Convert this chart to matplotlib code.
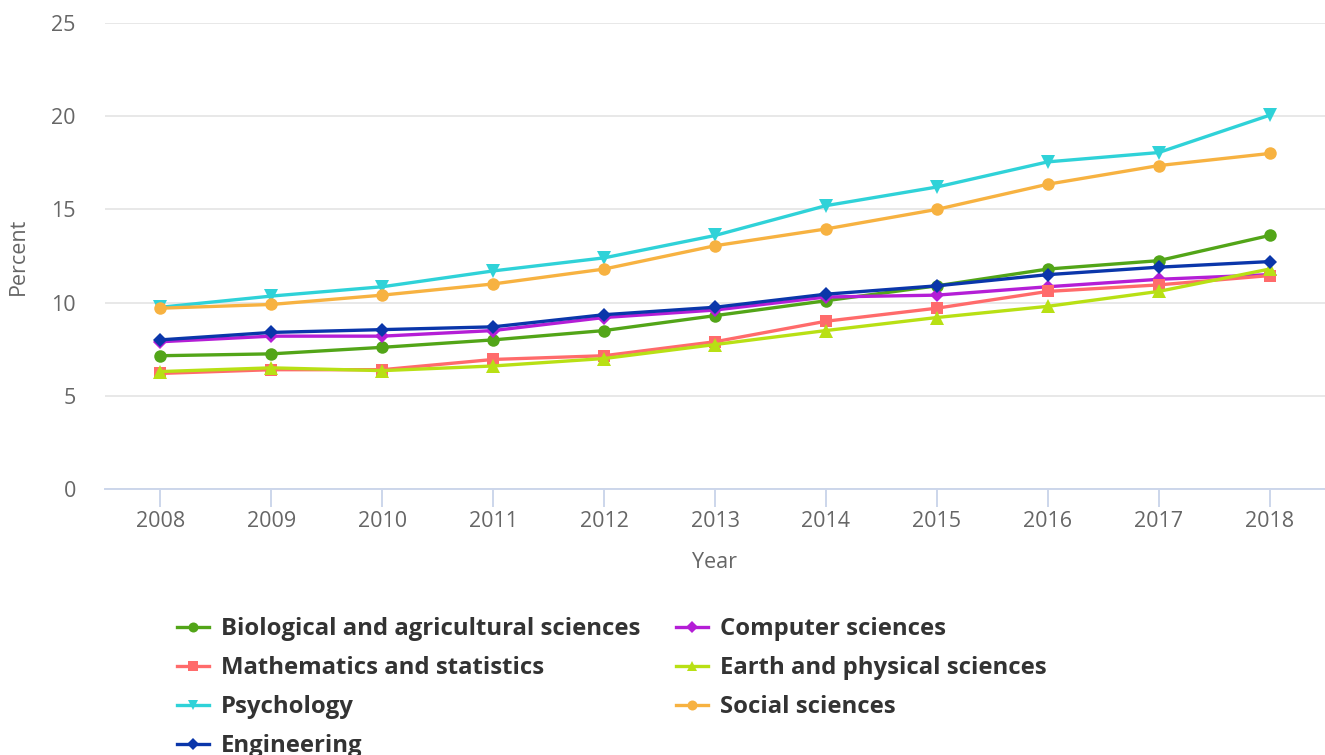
import matplotlib
matplotlib.use("Agg")
import matplotlib.pyplot as plt

years = [2008, 2009, 2010, 2011, 2012, 2013, 2014, 2015, 2016, 2017, 2018]

biological = [7.15, 7.25, 7.6, 8.0, 8.5, 9.3, 10.1, 10.9, 11.8, 12.25, 13.6]
computer = [7.9, 8.2, 8.2, 8.5, 9.2, 9.6, 10.3, 10.4, 10.85, 11.25, 11.5]
mathematics = [6.2, 6.4, 6.4, 6.95, 7.15, 7.9, 9.0, 9.7, 10.6, 10.95, 11.45]
earth = [6.3, 6.5, 6.35, 6.6, 7.0, 7.75, 8.5, 9.2, 9.8, 10.6, 11.8]
psychology = [9.75, 10.35, 10.85, 11.7, 12.4, 13.6, 15.2, 16.2, 17.55, 18.05, 20.05]
social = [9.7, 9.9, 10.4, 11.0, 11.8, 13.05, 13.95, 15.0, 16.35, 17.35, 18.0]
engineering = [8.0, 8.4, 8.55, 8.7, 9.35, 9.75, 10.45, 10.9, 11.5, 11.9, 12.2]

yticks = [0, 5, 10, 15, 20, 25]

series = [
    ("Biological and agricultural sciences", biological, "#52a518", "o"),
    ("Computer sciences", computer, "#b41ed6", "D"),
    ("Mathematics and statistics", mathematics, "#ff6b6b", "s"),
    ("Earth and physical sciences", earth, "#b8e014", "^"),
    ("Psychology", psychology, "#2fd2d8", "v"),
    ("Social sciences", social, "#f7b241", "o"),
    ("Engineering", engineering, "#0a36aa", "D"),
]

plt.rcParams['font.family'] = ['Open Sans', 'DejaVu Sans']

fig = plt.figure(figsize=(13.25, 7.55), dpi=100)
ax = fig.add_axes([105/1325, 1 - 489/755, 1 - 105/1325, (489 - 23)/755])

handles = {}
msizes = {"o": 9, "s": 8.5, "D": 7.5, "^": 9.5, "v": 9.5}
for name, vals, color, mk in series:
    ln, = ax.plot(years, vals, color=color, marker=mk, markersize=msizes[mk], linewidth=2.4,
                  markeredgewidth=0, label=name, zorder=3)
    handles[name] = ln

ax.set_xlim(2007.5, 2018.5)
ax.set_ylim(0, 25)
ax.set_yticks(yticks)
ax.set_xticks(years)
ax.grid(axis='y', color='#e6e6e6', linewidth=1.3, zorder=0)
for s in ['top', 'right', 'left']:
    ax.spines[s].set_visible(False)
ax.spines['bottom'].set_color('#ccd6eb')
ax.spines['bottom'].set_linewidth(1.4)
ax.tick_params(axis='y', length=0, pad=21, labelsize=15.5, labelcolor='#666666')
ax.tick_params(axis='x', length=13, width=1.4, color='#ccd6eb', pad=3, labelsize=15.5,
               labelcolor='#666666')
ax.set_ylabel("Percent", fontsize=15.5, color='#666666', labelpad=16)
ax.set_xlabel("Year", fontsize=15.5, color='#666666', labelpad=14)

order = ["Biological and agricultural sciences", "Mathematics and statistics", "Psychology",
         "Engineering", "Computer sciences", "Earth and physical sciences", "Social sciences"]
leg_handles = [handles[n] for n in order]
leg = fig.legend(leg_handles, order, loc='upper left', bbox_to_anchor=(177/1325, 1 - 617/755),
                 ncol=2, frameon=False, prop={'weight': 'bold', 'size': 17.2},
                 handlelength=1.35, handletextpad=0.5, columnspacing=1.48, labelspacing=0.63,
                 borderaxespad=0, borderpad=0, markerscale=0.8)
for t in leg.get_texts():
    t.set_color('#333333')

fig.savefig("out.png", dpi=100)
